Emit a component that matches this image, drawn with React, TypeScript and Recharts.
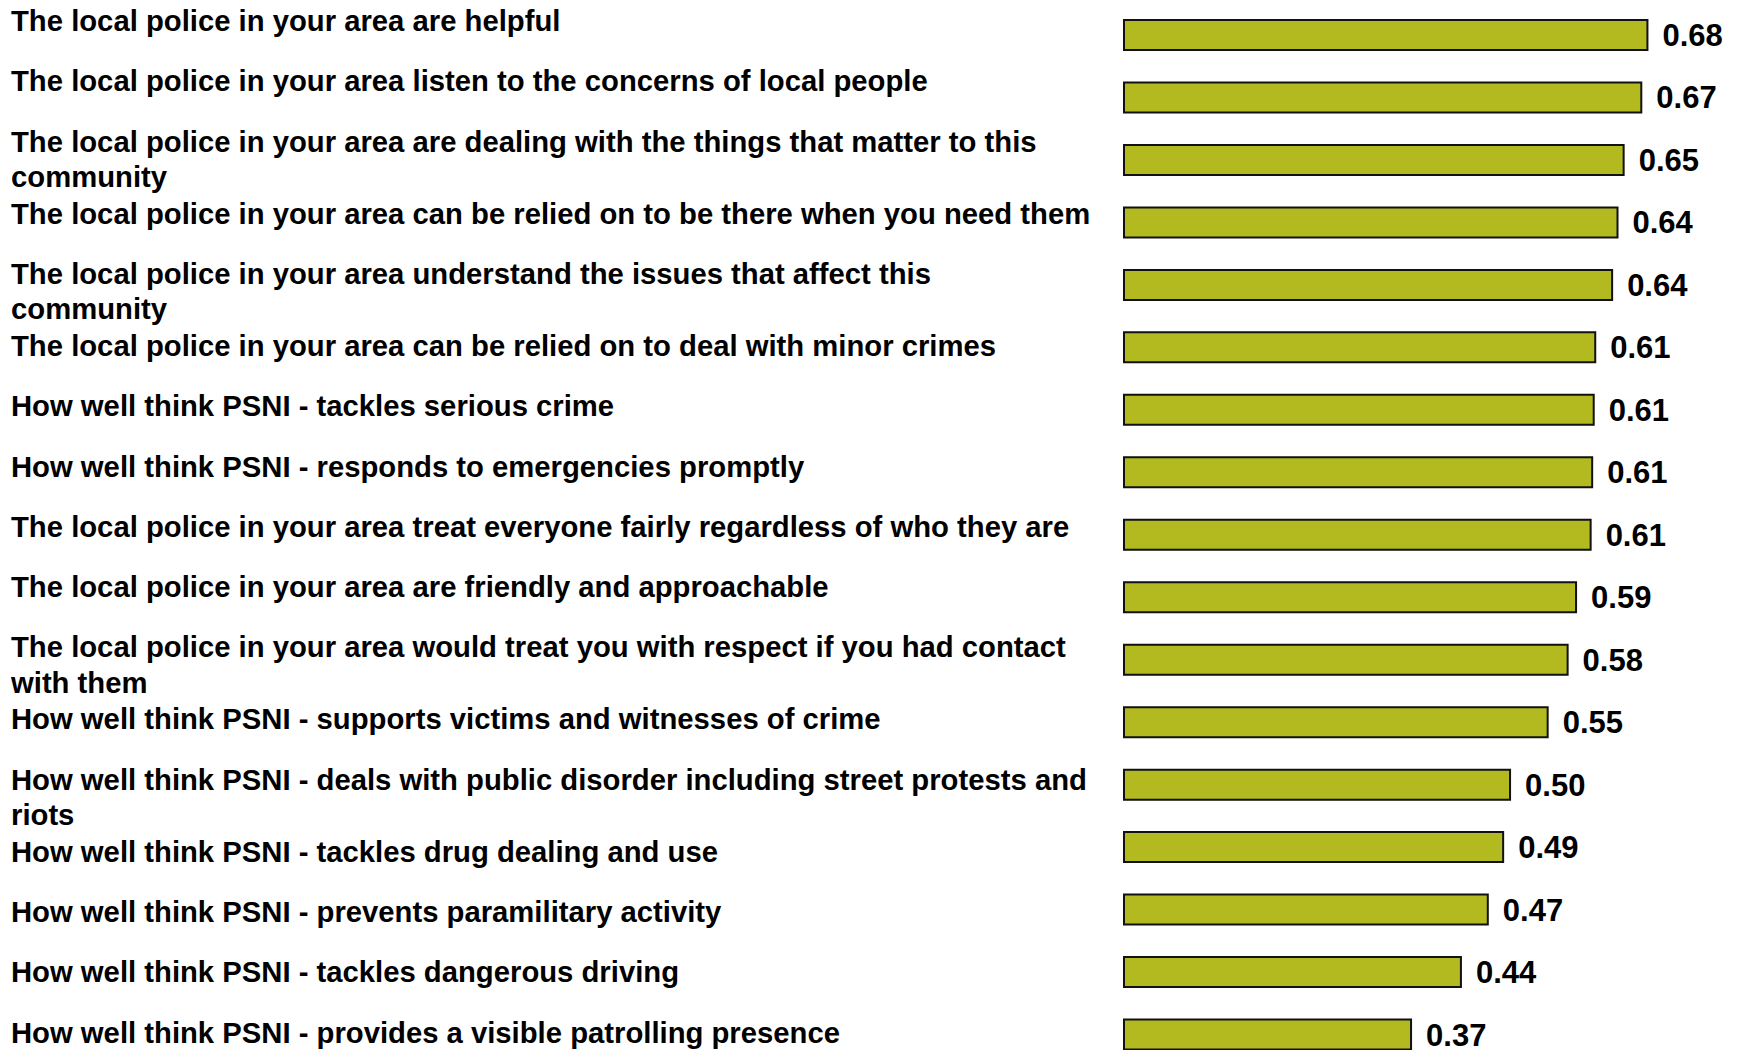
import React from 'react';
import { BarChart, Bar, XAxis, YAxis, LabelList } from 'recharts';

const categories: string[] = [
  "The local police in your area are helpful",
  "The local police in your area listen to the concerns of local people",
  "The local police in your area are dealing with the things that matter to this\ncommunity",
  "The local police in your area can be relied on to be there when you need them",
  "The local police in your area understand the issues that affect this\ncommunity",
  "The local police in your area can be relied on to deal with minor crimes",
  "How well think PSNI - tackles serious crime",
  "How well think PSNI - responds to emergencies promptly",
  "The local police in your area treat everyone fairly regardless of who they are",
  "The local police in your area are friendly and approachable",
  "The local police in your area would treat you with respect if you had contact\nwith them",
  "How well think PSNI - supports victims and witnesses of crime",
  "How well think PSNI - deals with public disorder including street protests and\nriots",
  "How well think PSNI - tackles drug dealing and use",
  "How well think PSNI - prevents paramilitary activity",
  "How well think PSNI - tackles dangerous driving",
  "How well think PSNI - provides a visible patrolling presence",
];

const values: number[] = [
  0.682, 0.674, 0.651, 0.643, 0.636, 0.614, 0.612, 0.61, 0.608,
  0.589, 0.578, 0.552, 0.503, 0.494, 0.474, 0.439, 0.374,
];

const data = categories.map((name, i) => ({ name, value: values[i] }));

const FONT = '"Liberation Sans", Arial, Helvetica, sans-serif';
const LABEL_X = 11;
const FIRST_BASELINE = 31;
const STEP_SINGLE = 60.3;
const STEP_DOUBLE = 72;
const LINE_H = 35.3;

const baselines: number[] = (() => {
  const out: number[] = [];
  let y = FIRST_BASELINE;
  categories.forEach((c) => {
    out.push(y);
    y += c.includes('\n') ? STEP_DOUBLE : STEP_SINGLE;
  });
  return out;
})();

const LabelTick = (props: any) => {
  const value = String(props.payload?.value ?? '');
  let idx = typeof props.index === 'number' ? props.index : categories.indexOf(value);
  if (idx < 0) idx = categories.indexOf(value);
  const lines = value.split('\n');
  return (
    <text
      x={LABEL_X}
      y={baselines[idx]}
      fontFamily={FONT}
      fontSize={29.25}
      fontWeight="bold"
      fill="#000"
      textAnchor="start"
    >
      {lines.map((ln, k) => (
        <tspan key={k} x={LABEL_X} dy={k === 0 ? 0 : LINE_H}>
          {ln}
        </tspan>
      ))}
    </text>
  );
};

export default function App() {
  return (
    <div
      style={{
        position: 'absolute',
        left: 0,
        top: 0,
        width: 1738,
        height: 1050,
        overflow: 'hidden',
        background: '#fff',
      }}
    >
      <BarChart
        layout="vertical"
        width={1738}
        height={1066}
        data={data}
        margin={{ top: 4, right: 0, bottom: 0, left: 0 }}
      >
        <XAxis type="number" domain={[0, 0.8]} hide />
        <YAxis
          type="category"
          dataKey="name"
          width={1124}
          axisLine={false}
          tickLine={false}
          interval={0}
          tick={(p: any) => <LabelTick {...p} />}
        />
        <Bar
          dataKey="value"
          fill="#B2BA1F"
          stroke="#111"
          strokeWidth={2}
          barSize={30}
          isAnimationActive={false}
        >
          <LabelList
            dataKey="value"
            position="right"
            offset={15}
            formatter={(v: any) => Number(v).toFixed(2)}
            fontSize={31}
            fontWeight="bold"
            fontFamily={FONT}
            fill="#000"
          />
        </Bar>
      </BarChart>
    </div>
  );
}
